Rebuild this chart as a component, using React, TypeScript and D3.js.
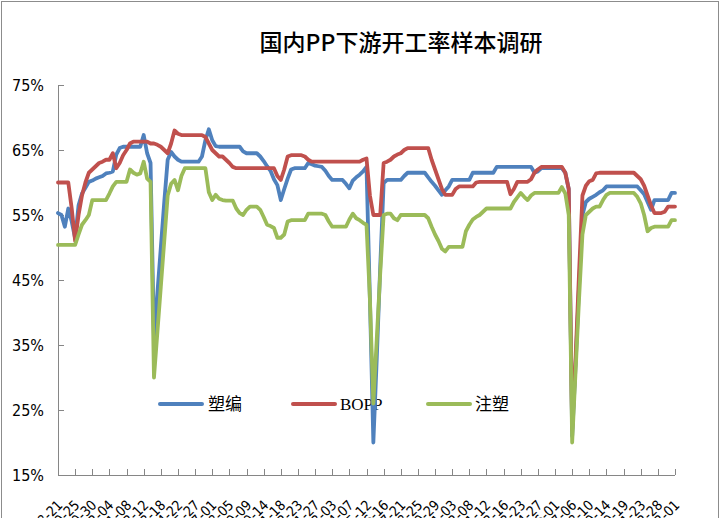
import React, { useEffect, useRef } from 'react';
import * as d3 from 'd3';

// weekly survey values (%)
const suBian = [
  55.3, 55, 53.2, 56, 54,
  51.4, 56.5, 58.3, 59.2, 60.1,
  60.3, 60.6, 60.8, 61, 61.4,
  61.5, 61.7, 64.3, 65.3, 65.5,
  65.5, 65.5, 65.5, 65.5, 65.5,
  67.3, 64.5, 63, 36, 43,
  50, 57, 63.5, 64.7, 64,
  63.5, 63.2, 63.2, 63.2, 63.2,
  63.2, 63.2, 64, 66.5, 68.2,
  66.5, 65.6, 65.5, 65.5, 65.5,
  65.5, 65.5, 65.5, 65.5, 64.8,
  64.5, 64.5, 64.5, 64.5, 64,
  63.3, 62.5, 61.8, 60.5, 59.6,
  57.3, 59, 60.6, 62, 62.2,
  62.2, 62.2, 62.2, 63, 62.8,
  62.6, 62.5, 62.4, 61.8, 61,
  60.4, 60.4, 60.4, 60.4, 59.8,
  59.1, 60.3, 60.8, 61.2, 61.7,
  62.4, 42, 20, 33, 47,
  59.9, 60.4, 60.4, 60.4, 60.4,
  60.4, 61, 61.5, 61.5, 61.5,
  61.5, 61.5, 61.5, 60.8, 60.1,
  59.5, 58.8, 58.1, 58.8, 59.4,
  60.4, 60.4, 60.4, 60.4, 60.4,
  60.4, 61.5, 61.5, 61.5, 61.5,
  61.5, 61.5, 61.5, 62.4, 62.4,
  62.4, 62.4, 62.4, 62.4, 62.4,
  62.4, 62.4, 62.4, 62.4, 61.5,
  61.7, 62.2, 62.2, 62.2, 62.2,
  62.2, 62.2, 62.2, 61.5, 59,
  21, 32, 44, 55, 57,
  57.5, 57.8, 58.1, 58.5, 58.8,
  59.4, 59.4, 59.4, 59.4, 59.4,
  59.4, 59.4, 59.4, 59.4, 59.4,
  58.8, 58.2, 57, 55.8, 57.3,
  57.3, 57.3, 57.3, 57.3, 58.4,
  58.4,
];

const bopp = [
  60, 60, 60, 60, 56,
  51, 55, 58, 60, 61.5,
  62, 62.5, 63, 63.2, 63.5,
  63.5, 64.5, 62.2, 63, 64.2,
  65, 66, 66.3, 66.3, 66.3,
  66.3, 66.3, 66, 66, 65.8,
  65.5, 65, 64.5, 66, 68,
  67.5, 67.3, 67.3, 67.3, 67.3,
  67.3, 67.3, 67.3, 67, 66,
  65, 64.5, 64, 64, 63.5,
  63, 62.4, 62.2, 62.2, 62.2,
  62.2, 62.2, 62.2, 62.2, 62.2,
  62.2, 62.2, 62.2, 62.2, 61,
  60.4, 62, 64, 64.2, 64.2,
  64.2, 64.2, 64, 63.5, 63.2,
  63.2, 63.2, 63.2, 63.2, 63.2,
  63.2, 63.2, 63.2, 63.2, 63.2,
  63.2, 63.2, 63.2, 63.2, 63.5,
  63.7, 58, 55, 55, 55,
  63, 63.2, 63.5, 64, 64.3,
  64.5, 65, 65.3, 65.3, 65.3,
  65.3, 65.3, 65.3, 65.3, 63.5,
  62, 60.5, 59, 58.1, 58.1,
  58.1, 59, 59.4, 59.4, 59.4,
  59.4, 59.4, 60, 60.1, 60.1,
  60.1, 60.1, 60.1, 60.1, 60.1,
  60.1, 60.1, 58.2, 59, 60.1,
  60.1, 60.1, 60.1, 60.5, 61.5,
  62, 62.4, 62.4, 62.4, 62.4,
  62.4, 62.4, 62.4, 61.5, 59,
  22, 33, 46, 58, 59.5,
  60.2, 60.4, 61.4, 61.5, 61.5,
  61.5, 61.5, 61.5, 61.5, 61.5,
  61.5, 61.5, 61.5, 61.5, 61,
  60.5, 59.5, 58, 56.5, 55.3,
  55.3, 55.3, 55.5, 56.3, 56.3,
  56.3,
];

const zhuSu = [
  50.4, 50.4, 50.4, 50.4, 50.4,
  50.4, 52, 53.5, 54.2, 55,
  57.3, 57.3, 57.3, 57.3, 57.3,
  58.3, 59.4, 60.1, 60.1, 60.1,
  60.1, 62, 61.5, 61.2, 61.4,
  63.2, 60.6, 60.1, 30, 37,
  44, 51, 58, 59.8, 60.4,
  58.8, 61, 62.2, 62.2, 62.2,
  62.2, 62.2, 62.2, 62.2, 58.5,
  57.3, 58.1, 57.5, 57.3, 57.2,
  57.2, 57.2, 56, 55.3, 55,
  55.8, 56.3, 56.3, 56.3, 55.8,
  54.7, 53.5, 53.3, 53, 51.5,
  51.5, 52, 54, 54.2, 54.2,
  54.2, 54.2, 54.2, 55.2, 55.2,
  55.2, 55.2, 55.2, 55, 54,
  53.2, 53.2, 53.2, 53.2, 53.2,
  54.3, 55.2, 54.5, 54.2, 53.8,
  53.5, 42, 26, 36, 46,
  55, 55.2, 55.2, 54.5, 54.2,
  55, 55, 55, 55, 55,
  55, 55, 55, 54.5, 53.2,
  52, 51, 49.8, 49.4, 50.1,
  50.1, 50.1, 50.1, 50.1, 52.5,
  53.5, 54.3, 54.7, 55, 55.5,
  56, 56, 56, 56, 56,
  56, 56, 56, 57, 57.7,
  58.4, 57.8, 57.3, 58, 58.4,
  58.4, 58.4, 58.4, 58.4, 58.4,
  58.4, 58.4, 59.3, 58.3, 55,
  20, 31, 42, 52, 55,
  55.5, 56, 56.3, 56.3, 57.3,
  58.1, 58.4, 58.4, 58.4, 58.4,
  58.4, 58.4, 58.4, 58.4, 57.8,
  56.8, 55, 52.5, 53, 53.2,
  53.2, 53.2, 53.2, 53.2, 54.2,
  54.2,
];

// one label every 5 weeks
const tickLabels = [
  '2015-08-21', '2015-09-25', '2015-10-30', '2015-12-04', '2016-01-08', '2016-02-12',
  '2016-03-18', '2016-04-22', '2016-05-27', '2016-07-01', '2016-08-05', '2016-09-09',
  '2016-10-14', '2016-11-18', '2016-12-23', '2017-01-27', '2017-03-03', '2017-04-07',
  '2017-05-12', '2017-06-16', '2017-07-21', '2017-08-25', '2017-09-29', '2017-11-03',
  '2017-12-08', '2018-01-12', '2018-02-16', '2018-03-23', '2018-04-27', '2018-06-01',
  '2018-07-06', '2018-08-10', '2018-09-14', '2018-10-19', '2018-11-23', '2018-12-28',
  '2019-02-01',
];
const tickStep = 5;
const yTicks = [15, 25, 35, 45, 55, 65, 75];

const seriesNames = ['塑编', 'BOPP', '注塑'];
const seriesColors = ['#4F81BD', '#C0504D', '#9BBB59'];

const App: React.FC = () => {
  const svgRef = useRef<SVGSVGElement>(null);

  useEffect(() => {
    if (!svgRef.current) return;
    const svg = d3.select(svgRef.current);
    svg.selectAll('*').remove();

    const W = 720;
    const H = 518;
    const left = 58, right = 675, top = 85, bottom = 475;
    const axisColor = '#868686';
    const numFont = '"Liberation Sans Narrow", "DejaVu Sans Condensed", sans-serif';

    // outer frame
    svg.append('rect')
      .attr('x', 1.5).attr('y', 1.5)
      .attr('width', W - 3).attr('height', H + 20)
      .attr('fill', 'white')
      .attr('stroke', '#8c8c8c')
      .attr('stroke-width', 1);

    const x = d3.scaleLinear().domain([0, bopp.length - 1]).range([left, right]);
    const y = d3.scaleLinear().domain([15, 75]).range([bottom, top]);

    // title
    svg.append('text')
      .attr('x', 401).attr('y', 51)
      .attr('text-anchor', 'middle')
      .attr('font-family', '"Noto Sans CJK SC", sans-serif')
      .attr('font-weight', 500)
      .attr('font-size', '23px')
      .attr('fill', '#000')
      .text('国内PP下游开工率样本调研');

    // y axis
    svg.append('line')
      .attr('x1', left + 0.5).attr('x2', left + 0.5)
      .attr('y1', top).attr('y2', bottom)
      .attr('stroke', axisColor);
    yTicks.forEach(t => {
      svg.append('line')
        .attr('x1', left).attr('x2', left + 6)
        .attr('y1', Math.round(y(t)) + 0.5).attr('y2', Math.round(y(t)) + 0.5)
        .attr('stroke', axisColor);
      svg.append('text')
        .attr('x', 44).attr('y', y(t))
        .attr('dy', '0.35em')
        .attr('text-anchor', 'end')
        .attr('font-family', numFont)
        .attr('font-size', '16px')
        .attr('fill', '#000')
        .text(`${t}%`);
    });

    // x axis
    svg.append('line')
      .attr('x1', left).attr('x2', right)
      .attr('y1', bottom + 0.5).attr('y2', bottom + 0.5)
      .attr('stroke', axisColor);
    tickLabels.forEach((lab, k) => {
      const tx = Math.round(x(k * tickStep)) + 0.5;
      svg.append('line')
        .attr('x1', tx).attr('x2', tx)
        .attr('y1', bottom).attr('y2', bottom - 6)
        .attr('stroke', axisColor);
      svg.append('text')
        .attr('transform', `translate(${tx + 5},${bottom + 31}) rotate(-45)`)
        .attr('text-anchor', 'end')
        .attr('font-family', numFont)
        .attr('font-size', '14px')
        .attr('fill', '#000')
        .text(lab);
    });

    // legend
    const legendX = [160, 293, 428];
    const legendText = [208, 340, 475];
    seriesNames.forEach((name, i) => {
      svg.append('line')
        .attr('x1', legendX[i]).attr('x2', legendX[i] + 42)
        .attr('y1', 404).attr('y2', 404)
        .attr('stroke', seriesColors[i])
        .attr('stroke-width', 4)
        .attr('stroke-linecap', 'round');
      svg.append('text')
        .attr('x', legendText[i]).attr('y', 404)
        .attr('dy', '0.36em')
        .attr('font-family', '"Liberation Serif", "Noto Sans CJK SC", serif')
        .attr('font-size', '17px')
        .attr('fill', '#000')
        .text(name);
    });

    // series lines
    const line = d3.line<number>()
      .x((_, i) => x(i))
      .y(d => y(d));

    [suBian, bopp, zhuSu].forEach((vals, i) => {
      svg.append('path')
        .datum(vals)
        .attr('fill', 'none')
        .attr('stroke', seriesColors[i])
        .attr('stroke-width', 3.8)
        .attr('stroke-linejoin', 'round')
        .attr('stroke-linecap', 'round')
        .attr('d', line);
    });
  }, []);

  return (
    <svg
      ref={svgRef}
      width={720}
      height={518}
      style={{ position: 'absolute', left: 0, top: 0, display: 'block' }}
    />
  );
};

export default App;
